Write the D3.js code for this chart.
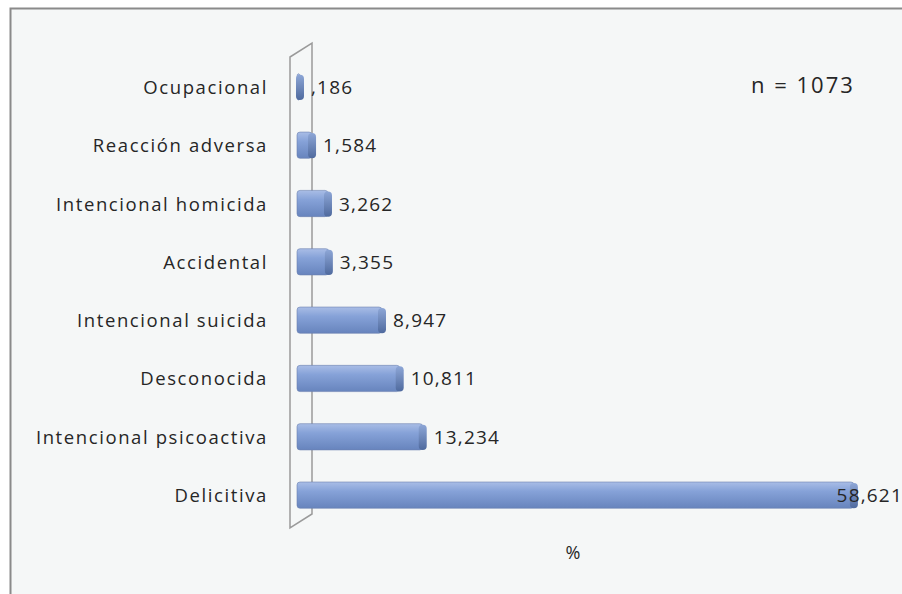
<!DOCTYPE html>
<html>
<head>
<meta charset="utf-8">
<script src="https://cdn.jsdelivr.net/npm/d3@7"></script>
<style>
  body { margin: 0; background: #fff; }
  text { font-family: "Open Sans", sans-serif; fill: #262626; }
</style>
</head>
<body>
<svg width="902" height="594"></svg>
<script>
// data
var categories = ["Ocupacional", "Reacción adversa", "Intencional homicida", "Accidental",
    "Intencional suicida", "Desconocida", "Intencional psicoactiva", "Delicitiva"];
var values = [0.186, 1.584, 3.262, 3.355, 8.947, 10.811, 13.234, 58.621];
var sampleLabel = "n = 1073";
var axisTitle = "%";

var svg = d3.select("svg"),
    width = +svg.attr("width"),
    height = +svg.attr("height");

var rows = categories.map(function (c, i) { return { cat: c, value: values[i] }; });

// frame
svg.append("rect")
    .attr("x", 10.5).attr("y", 8.5)
    .attr("width", 910).attr("height", 600)
    .attr("fill", "#f5f7f7")
    .attr("stroke", "#8a8a8a")
    .attr("stroke-width", 2);

var defs = svg.append("defs");
var g1 = defs.append("linearGradient").attr("id", "barGrad")
    .attr("x1", 0).attr("y1", 0).attr("x2", 0).attr("y2", 1);
g1.append("stop").attr("offset", "0%").attr("stop-color", "#a9bde6");
g1.append("stop").attr("offset", "35%").attr("stop-color", "#86a2d8");
g1.append("stop").attr("offset", "100%").attr("stop-color", "#6784bd");
var g2 = defs.append("linearGradient").attr("id", "capGrad")
    .attr("x1", 0).attr("y1", 0).attr("x2", 0).attr("y2", 1);
g2.append("stop").attr("offset", "0%").attr("stop-color", "#8da6d6");
g2.append("stop").attr("offset", "100%").attr("stop-color", "#4f6a9e");

var x = d3.scaleLinear().domain([0, 60]).range([297, 297 + 60 * 9.5]);
var y = d3.scaleBand().domain(categories).range([58, 524]).paddingInner(0.55).paddingOuter(0.27);

// 3d wall
var wall = svg.append("g").attr("fill", "none").attr("stroke", "#9a9a9a").attr("stroke-width", 1.5);
wall.append("path").attr("d", "M290,57 L312,43 L312,514 L290,528 Z");

// bars
var bar = svg.append("g").selectAll("g")
    .data(rows)
    .enter().append("g");

bar.append("rect")
    .attr("x", x(0))
    .attr("y", function (d) { return y(d.cat); })
    .attr("width", function (d) { return Math.max(x(d.value) - x(0), 3); })
    .attr("height", y.bandwidth())
    .attr("rx", 3)
    .attr("fill", "url(#barGrad)")
    .attr("stroke", "#6b82b0")
    .attr("stroke-width", 0.6);

bar.append("rect")
    .attr("x", function (d) { return Math.max(x(d.value), x(0) + 3) - 4; })
    .attr("y", function (d) { return y(d.cat) + 1; })
    .attr("width", 8)
    .attr("height", y.bandwidth() - 1)
    .attr("rx", 4)
    .attr("fill", "url(#capGrad)");

// value labels
function fmt(v) {
    var s = d3.format(".3f")(v).replace(".", ",");
    return s.replace(/^0,/, ",");
}

bar.append("text")
    .attr("y", function (d) { return y(d.cat) + y.bandwidth() / 2 + 7; })
    .attr("font-size", 19)
    .attr("letter-spacing", 1.2)
    .text(function (d) { return fmt(d.value); })
    .each(function (d) {
        var t = d3.select(this);
        var w = this.getComputedTextLength();
        var px = Math.max(x(d.value), x(0) + 3) + 11;
        if (px + w > width + 1) px = width + 1 - w;
        t.attr("x", px);
    });

// category labels
svg.append("g").selectAll("text")
    .data(rows)
    .enter().append("text")
    .attr("x", 268)
    .attr("y", function (d) { return y(d.cat) + y.bandwidth() / 2 + 7; })
    .attr("text-anchor", "end")
    .attr("font-size", 18.5)
    .attr("letter-spacing", 1.6)
    .text(function (d) { return d.cat; });

svg.append("text")
    .attr("x", 573).attr("y", 559)
    .attr("text-anchor", "middle")
    .attr("font-size", 18)
    .text(axisTitle);

svg.append("text")
    .attr("x", 751).attr("y", 93)
    .attr("font-size", 22)
    .attr("letter-spacing", 2)
    .text(sampleLabel);
</script>
</body>
</html>
